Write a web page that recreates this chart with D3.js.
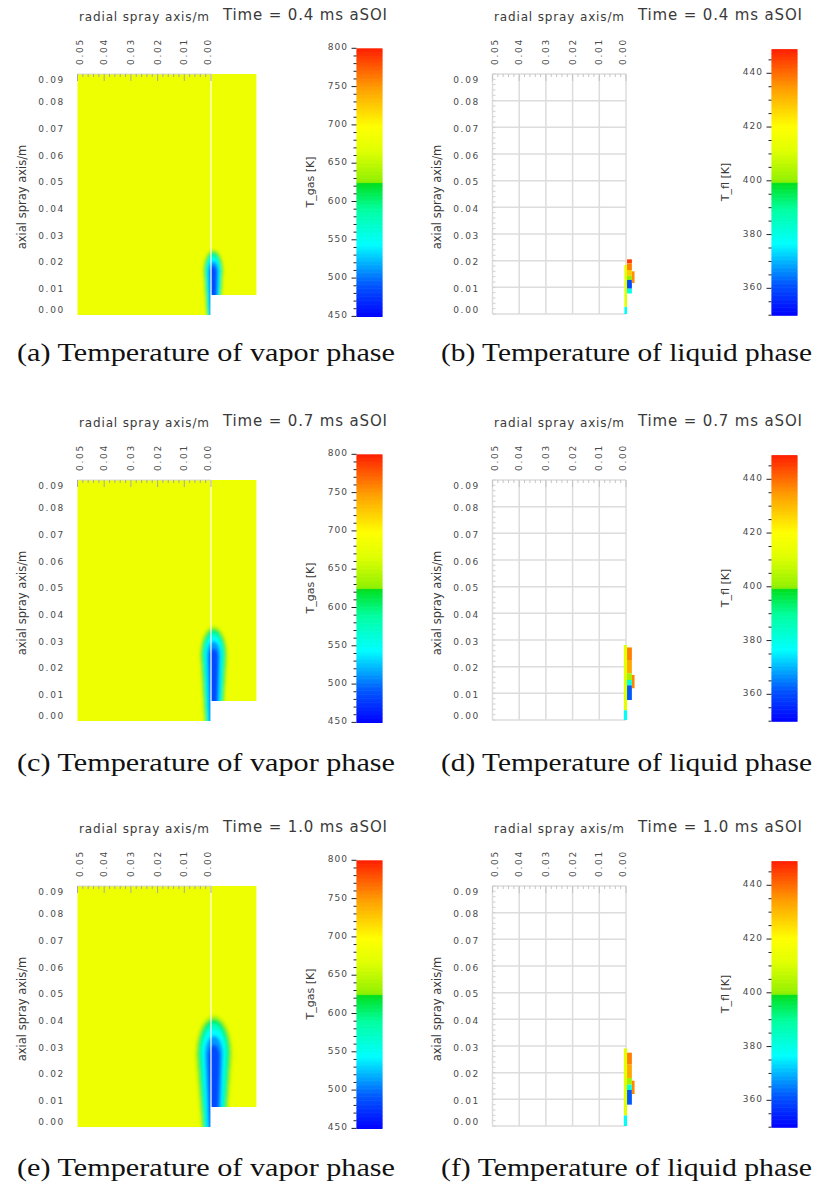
<!DOCTYPE html>
<html>
<head>
<meta charset="utf-8">
<script src="https://cdn.jsdelivr.net/npm/d3@7"></script>
<style>
  body { margin: 0; background: #fff; }
  text { font-family: "DejaVu Sans", sans-serif; }
  text.caption { font-family: "Liberation Serif", serif; }
</style>
</head>
<body>
<svg id="fig" width="816" height="1187"></svg>
<script>
// ---- data -------------------------------------------------------------
const times = ["0.4", "0.7", "1.0"];                     // ms after start of injection
const gasCaptions = ["(a) Temperature of vapor phase", "(c) Temperature of vapor phase", "(e) Temperature of vapor phase"];
const liqCaptions = ["(b) Temperature of liquid phase", "(d) Temperature of liquid phase", "(f) Temperature of liquid phase"];
const radialTicks = [0.05, 0.04, 0.03, 0.02, 0.01, 0.00];
const axialTicks = [0.09, 0.08, 0.07, 0.06, 0.05, 0.04, 0.03, 0.02, 0.01, 0.00];
const gasTicks = [800, 750, 700, 650, 600, 550, 500, 450];
const liqTicks = [440, 420, 400, 380, 360];
const gasRange = [450, 800];          // K
const liqRange = [350, 449];          // K
const ambientGas = 680;               // K, chamber gas

// isotherms of the cooled spray plume in the vapor phase (K)
const gasLevels = [645, 612, 578, 545, 512, 485];
// axial reach of each isotherm (m), one row per time step
const plumeTip = [
  [0.0242, 0.0234, 0.0224, 0.0212, 0.0198, 0.0182],
  [0.0352, 0.0342, 0.0330, 0.0315, 0.0295, 0.0268],
  [0.0415, 0.0402, 0.0386, 0.0365, 0.0338, 0.0305]
];
// half width of each isotherm at its widest section (m)
const plumeHalfWidth = [
  [0.0038, 0.0034, 0.0029, 0.0024, 0.0019, 0.0013],
  [0.0052, 0.0046, 0.0039, 0.0032, 0.0025, 0.0017],
  [0.0070, 0.0061, 0.0052, 0.0043, 0.0033, 0.0022]
];
// radial position of the plume centre line (m, negative = right of nozzle axis)
const plumeCenter = [-0.0009, -0.0010, -0.0011];

// liquid parcels: [r from, r to, z from, z to, T]
const liquid04 = [
  [0.0006, -0.0004, 0.0000, 0.0027, 378],
  [0.0006, -0.0004, 0.0027, 0.0184, 412],
  [-0.0004, -0.0022, 0.0190, 0.0205, 446],
  [-0.0004, -0.0022, 0.0165, 0.0190, 438],
  [-0.0004, -0.0022, 0.0143, 0.0165, 428],
  [-0.0004, -0.0022, 0.0128, 0.0143, 400],
  [-0.0004, -0.0022, 0.0095, 0.0128, 360],
  [-0.0004, -0.0022, 0.0077, 0.0095, 380],
  [-0.0022, -0.0032, 0.0116, 0.0160, 436]
];
const liquid07 = [
  [0.0008, -0.0004, 0.0000, 0.0037, 378],
  [0.0008, -0.0004, 0.0037, 0.0281, 412],
  [-0.0004, -0.0022, 0.0225, 0.0272, 438],
  [-0.0004, -0.0022, 0.0175, 0.0225, 433],
  [-0.0004, -0.0022, 0.0150, 0.0175, 402],
  [-0.0004, -0.0022, 0.0130, 0.0150, 380],
  [-0.0004, -0.0022, 0.0075, 0.0130, 362],
  [-0.0022, -0.0032, 0.0119, 0.0169, 437]
];
const liquid10 = [
  [0.0008, -0.0004, 0.0000, 0.0040, 378],
  [0.0008, -0.0004, 0.0040, 0.0291, 412],
  [-0.0004, -0.0022, 0.0230, 0.0275, 438],
  [-0.0004, -0.0022, 0.0180, 0.0230, 433],
  [-0.0004, -0.0022, 0.0155, 0.0180, 402],
  [-0.0004, -0.0022, 0.0135, 0.0155, 380],
  [-0.0004, -0.0022, 0.0080, 0.0135, 362],
  [-0.0022, -0.0032, 0.0120, 0.0170, 437]
];
const liquidParcels = [liquid04, liquid07, liquid10];

// shared rainbow colour map on [0,1]
const cmapStops = [0, 0.12, 0.27, 0.40, 0.497, 0.503, 0.62, 0.71, 0.85, 1];
const cmapColors = ["#0000ff", "#0058ff", "#00ffff", "#00ffa0", "#00e020", "#90f000", "#e0ff00", "#ffff00", "#ffa000", "#ff2000"];

// ---- drawing ----------------------------------------------------------
const svg = d3.select("#fig");
const defs = svg.append("defs");
defs.append("filter").attr("id", "soft").attr("x", "-50%").attr("y", "-50%").attr("width", "200%").attr("height", "200%")
  .append("feGaussianBlur").attr("stdDeviation", 1.8);
defs.append("filter").attr("id", "softer").attr("x", "-50%").attr("y", "-50%").attr("width", "200%").attr("height", "200%")
  .append("feGaussianBlur").attr("stdDeviation", 0.6);

const cmap = d3.scaleLinear().domain(cmapStops).range(cmapColors).interpolate(d3.interpolateRgb).clamp(true);
const gasColor = T => cmap((T - gasRange[0]) / (gasRange[1] - gasRange[0]));
const liqColor = T => cmap((T - liqRange[0]) / (liqRange[1] - liqRange[0]));

// scales shared by every panel (panel-local pixels)
const x = d3.scaleLinear().domain([0.05, 0]).range([77.5, 211]);
const y = d3.scaleLinear().domain([0, 0.09]).range([314, 74]);
const rightEdge = -0.017;      // radial extent of the gas field right of the axis
const rightBottom = 0.0071;    // lower bound of the gas field right of the axis

const rowOffset = [0, 406, 812];
const liqOffset = 415;
const labelColor = "#4a4a4a";

function tickLabelStyle(sel) {
  sel.attr("font-size", 9).attr("letter-spacing", 1.7).attr("fill", labelColor);
}

function frameText(g, row) {
  g.append("text").attr("x", 144).attr("y", 17).attr("text-anchor", "middle").attr("dominant-baseline", "central")
    .attr("font-size", 12).attr("fill", "#3a3a3a").attr("textLength", 130).text("radial spray axis/m");
  g.append("text").attr("x", 223).attr("y", 15).attr("dominant-baseline", "central")
    .attr("font-size", 15).attr("fill", "#3a3a3a").attr("textLength", 164).attr("lengthAdjust", "spacing")
    .text(`Time = ${times[row]} ms aSOI`);
  // rotated radial tick labels above the plot
  g.selectAll(".rlab").data(radialTicks).join("text")
    .attr("transform", d => `translate(${Math.max(80, Math.min(207.5, x(d)))},65) rotate(-90)`)
    .attr("dominant-baseline", "central").call(tickLabelStyle).text(d => d.toFixed(2));
  // axial tick labels
  g.selectAll(".alab").data(axialTicks).join("text")
    .attr("x", 65).attr("y", d => Math.max(80, Math.min(310, y(d) + 1.5)))
    .attr("text-anchor", "end").attr("dominant-baseline", "central").call(tickLabelStyle).text(d => d.toFixed(2));
  g.append("text").attr("transform", "translate(22,197) rotate(-90)").attr("text-anchor", "middle")
    .attr("dominant-baseline", "central").attr("font-size", 11.5).attr("fill", "#3a3a3a").text("axial spray axis/m");
}

function topTicks(g, color) {
  const minor = d3.range(0, 0.0501, 0.002);
  g.append("g").selectAll("line").data(minor).join("line")
    .attr("x1", d => x(d)).attr("x2", d => x(d))
    .attr("y1", y(0.09)).attr("y2", d => y(0.09) + (Math.abs(d * 100 - Math.round(d * 100)) < 1e-6 ? 7 : 3))
    .attr("stroke", color).attr("stroke-width", 1);
}

function colorbar(g, domain, ticks, minorStep, yr, title, colorFn) {
  const cy = d3.scaleLinear().domain(domain).range(yr);
  const x0 = 356.5, w = 26;
  const steps = d3.range(domain[0], domain[1] + 1e-9, (domain[1] - domain[0]) / 200);
  g.append("g").selectAll("rect").data(steps.slice(0, -1)).join("rect")
    .attr("x", x0).attr("width", w)
    .attr("y", (d, i) => cy(steps[i + 1])).attr("height", (d, i) => cy(d) - cy(steps[i + 1]) + 0.6)
    .attr("fill", (d, i) => colorFn((d + steps[i + 1]) / 2));
  const minor = d3.range(domain[0], domain[1] + 1e-9, minorStep);
  g.append("g").selectAll("line").data(minor).join("line")
    .attr("x1", d => x0 - (ticks.includes(Math.round(d)) ? 5 : 3)).attr("x2", x0)
    .attr("y1", d => cy(d)).attr("y2", d => cy(d)).attr("stroke", "#222").attr("stroke-width", 1);
  g.selectAll(".cblab").data(ticks).join("text")
    .attr("x", 348).attr("y", d => cy(d) - 1).attr("text-anchor", "end").attr("dominant-baseline", "central")
    .attr("font-size", 9).attr("letter-spacing", 1).attr("fill", labelColor).text(d => d);
  g.append("text").attr("transform", "translate(310,182) rotate(-90)").attr("text-anchor", "middle")
    .attr("dominant-baseline", "central").attr("font-size", 11).attr("fill", "#3a3a3a").text(title);
}

// closed outline of one isotherm: tapered stem below an elliptic cap
function isothermPath(cx, tip, hw) {
  const yW = tip - 2.2 * hw, bottom = -0.003, hwB = 0.65 * hw;
  const pts = [];
  const stem = d3.range(0, 1.0001, 0.1);
  stem.forEach(f => pts.push([cx + hwB + (hw - hwB) * f, bottom + (yW - bottom) * f]));
  d3.range(0, Math.PI + 1e-9, Math.PI / 24).forEach(a => pts.push([cx + hw * Math.cos(a), yW + (tip - yW) * Math.sin(a)]));
  stem.slice().reverse().forEach(f => pts.push([cx - hwB - (hw - hwB) * f, bottom + (yW - bottom) * f]));
  return d3.line().x(p => x(p[0])).y(p => y(p[1])).curve(d3.curveCatmullRomClosed)(pts);
}

function gasPanel(row) {
  const g = svg.append("g").attr("transform", `translate(0,${rowOffset[row]})`);
  const clipId = `gasclip${row}`;
  const clip = defs.append("clipPath").attr("id", clipId);
  const leftRect = [x(0.05), y(0.09), x(0) - x(0.05), y(0) - y(0.09) + 1];
  const rightRect = [x(0), y(0.09), x(rightEdge) - x(0), y(rightBottom) - y(0.09)];
  [leftRect, rightRect].forEach(r => clip.append("rect").attr("x", r[0]).attr("y", r[1]).attr("width", r[2]).attr("height", r[3]));

  const field = g.append("g").attr("clip-path", `url(#${clipId})`);
  field.append("rect").attr("x", x(0.05) - 5).attr("y", y(0.09) - 5)
    .attr("width", x(rightEdge) - x(0.05) + 10).attr("height", y(0) - y(0.09) + 10).attr("fill", gasColor(ambientGas));
  const plume = field.append("g").attr("filter", "url(#soft)");
  plume.selectAll("path").data(gasLevels).join("path")
    .attr("d", (T, i) => isothermPath(plumeCenter[row], plumeTip[row][i], plumeHalfWidth[row][i]))
    .attr("fill", T => gasColor(T));

  // nozzle axis
  g.append("line").attr("x1", x(0)).attr("x2", x(0)).attr("y1", y(0.09)).attr("y2", y(0) + 1)
    .attr("stroke", "#fff").attr("stroke-width", 1.2);
  g.append("line").attr("x1", x(0.05)).attr("x2", x(0)).attr("y1", y(0.09)).attr("y2", y(0.09))
    .attr("stroke", "#d8d8d8").attr("stroke-width", 1);
  topTicks(g, "#a8a8a8");
  frameText(g, row);
  colorbar(g, gasRange, gasTicks, 10, [316.4, 48.3], "T_gas [K]", gasColor);
}

function liquidPanel(row) {
  const g = svg.append("g").attr("transform", `translate(${liqOffset},${rowOffset[row]})`);
  const gridColor = "#dcdcdc";
  g.append("g").selectAll("line").data(radialTicks).join("line")
    .attr("x1", d => x(d)).attr("x2", d => x(d)).attr("y1", y(0.09)).attr("y2", y(0))
    .attr("stroke", gridColor).attr("stroke-width", 1.5);
  g.append("g").selectAll("line").data(axialTicks).join("line")
    .attr("x1", x(0.05)).attr("x2", x(0)).attr("y1", d => y(d)).attr("y2", d => y(d))
    .attr("stroke", gridColor).attr("stroke-width", 1.5);
  topTicks(g, "#c4c4c4");
  // minor ticks along the axial edge
  g.append("g").selectAll("line").data(d3.range(0, 0.0901, 0.002)).join("line")
    .attr("x1", x(0.05)).attr("x2", x(0.05) + 3).attr("y1", d => y(d)).attr("y2", d => y(d))
    .attr("stroke", "#d0d0d0").attr("stroke-width", 1);

  g.append("g").attr("filter", "url(#softer)").selectAll("rect").data(liquidParcels[row]).join("rect")
    .attr("x", d => x(d[0])).attr("width", d => x(d[1]) - x(d[0]))
    .attr("y", d => y(d[3])).attr("height", d => y(d[2]) - y(d[3]))
    .attr("fill", d => liqColor(d[4]));

  frameText(g, row);
  colorbar(g, liqRange, liqTicks, 5, [315.2, 49.1], "T_fl [K]", liqColor);
}

const captionY = [352, 762, 1167];
[0, 1, 2].forEach(row => {
  gasPanel(row);
  liquidPanel(row);
  svg.append("text").attr("class", "caption").attr("x", 17).attr("y", captionY[row]).attr("dominant-baseline", "central")
    .attr("font-size", 25).attr("fill", "#111")
    .attr("textLength", 378).attr("lengthAdjust", "spacingAndGlyphs").text(gasCaptions[row]);
  svg.append("text").attr("class", "caption").attr("x", 441).attr("y", captionY[row]).attr("dominant-baseline", "central")
    .attr("font-size", 25).attr("fill", "#111")
    .attr("textLength", 371).attr("lengthAdjust", "spacingAndGlyphs").text(liqCaptions[row]);
});
</script>
</body>
</html>
